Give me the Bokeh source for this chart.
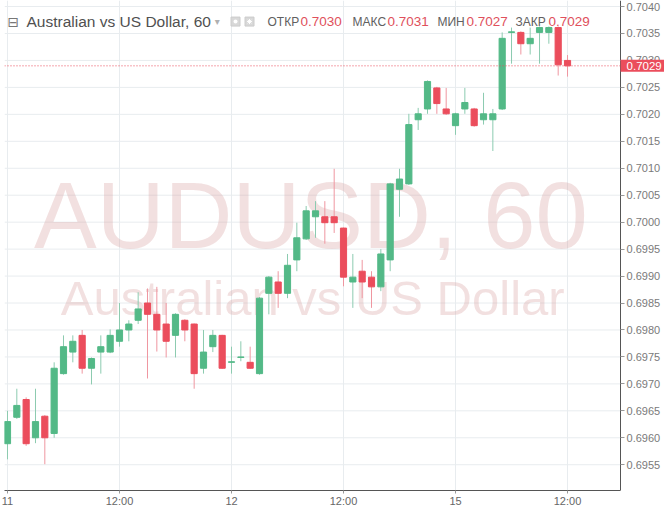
from bokeh.plotting import figure
from bokeh.models import (ColumnDataSource, FixedTicker, Label, Range1d,
                          PrintfTickFormatter)
from bokeh.embed import file_html
from bokeh.resources import INLINE
from bokeh.core.properties import value

# ---------------- data (AUDUSD, 60 min) ----------------
bars = list(range(61))
opens = [0.69589, 0.69638, 0.69671, 0.69600, 0.69640, 0.69608, 0.69719, 0.69759, 0.69790, 0.69729,
         0.69759, 0.69759, 0.69779, 0.69800, 0.69818, 0.69850, 0.69829, 0.69811, 0.69790, 0.69818,
         0.69811, 0.69729, 0.69769, 0.69790, 0.69740, 0.69749, 0.69740, 0.69719, 0.69868, 0.69889,
         0.69868, 0.69930, 0.69969, 0.70010, 0.70010, 0.70010, 0.69989, 0.69889, 0.69909, 0.69898,
         0.69880, 0.69930, 0.70061, 0.70071, 0.70190, 0.70210, 0.70249, 0.70210, 0.70179, 0.70210,
         0.70210, 0.70190, 0.70190, 0.70210, 0.70352, 0.70352, 0.70331, 0.70352, 0.70352, 0.70361,
         0.70300]
highs = [0.69650, 0.69691, 0.69675, 0.69691, 0.69642, 0.69740, 0.69790, 0.69790, 0.69800, 0.69749,
         0.69790, 0.69801, 0.69850, 0.69818, 0.69870, 0.69877, 0.69880, 0.69850, 0.69831, 0.69820,
         0.69812, 0.69800, 0.69800, 0.69791, 0.69769, 0.69779, 0.69769, 0.69861, 0.69900, 0.69909,
         0.69941, 0.69999, 0.70030, 0.70039, 0.70039, 0.70099, 0.69990, 0.69941, 0.69930, 0.69909,
         0.69950, 0.70073, 0.70099, 0.70201, 0.70212, 0.70263, 0.70251, 0.70249, 0.70203, 0.70249,
         0.70212, 0.70240, 0.70210, 0.70352, 0.70361, 0.70354, 0.70361, 0.70363, 0.70363, 0.70363,
         0.70310]
lows = [0.69560, 0.69635, 0.69585, 0.69590, 0.69551, 0.69600, 0.69717, 0.69740, 0.69719, 0.69699,
        0.69719, 0.69757, 0.69769, 0.69779, 0.69811, 0.69710, 0.69760, 0.69749, 0.69749, 0.69779,
        0.69691, 0.69719, 0.69759, 0.69728, 0.69719, 0.69742, 0.69728, 0.69717, 0.69829, 0.69841,
        0.69859, 0.69909, 0.69967, 0.69971, 0.69960, 0.69980, 0.69881, 0.69841, 0.69859, 0.69841,
        0.69872, 0.69909, 0.70010, 0.70069, 0.70171, 0.70201, 0.70201, 0.70199, 0.70162, 0.70201,
        0.70177, 0.70181, 0.70132, 0.70208, 0.70294, 0.70311, 0.70311, 0.70294, 0.70331, 0.70272,
        0.70270]
closes = [0.69630, 0.69660, 0.69589, 0.69630, 0.69600, 0.69729, 0.69769, 0.69779, 0.69729, 0.69747,
          0.69769, 0.69790, 0.69800, 0.69811, 0.69839, 0.69829, 0.69800, 0.69779, 0.69829, 0.69800,
          0.69719, 0.69759, 0.69790, 0.69729, 0.69741, 0.69750, 0.69729, 0.69859, 0.69898, 0.69868,
          0.69920, 0.69971, 0.70021, 0.70021, 0.69999, 0.69999, 0.69898, 0.69898, 0.69889, 0.69880,
          0.69941, 0.70071, 0.70080, 0.70181, 0.70201, 0.70261, 0.70220, 0.70201, 0.70201, 0.70222,
          0.70179, 0.70201, 0.70201, 0.70341, 0.70353, 0.70331, 0.70341, 0.70361, 0.70361, 0.70292,
          0.70290]

x_tick_bars = [0, 12, 24, 36, 48, 60]
x_tick_labels = ["11", "12:00", "12", "12:00", "15", "12:00"]
y_ticks = [0.6955, 0.6960, 0.6965, 0.6970, 0.6975, 0.6980, 0.6985, 0.6990, 0.6995,
           0.7000, 0.7005, 0.7010, 0.7015, 0.7020, 0.7025, 0.7030, 0.7035, 0.7040]

title_text = "Australian vs US Dollar, 60"
watermark_big = "AUDUSD, 60"
watermark_small = "Australian vs US Dollar"
ohlc_names = ["ОТКР", "МАКС", "МИН", "ЗАКР"]
ohlc_values = ["0.7030", "0.7031", "0.7027", "0.7029"]
last_price = 0.7029

UP = "#53b987"
DOWN = "#eb4d5c"
UP_WICK = "#8ccbb0"
DOWN_WICK = "#ef96a0"
GRID = "#e8ecef"

X0, X1 = -0.32, 65.68          # visible bar span of the price pane
XR_END = 70.39                 # pane + price-scale strip

up = [c >= o for o, c in zip(opens, closes)]
src = ColumnDataSource(dict(
    x=bars,
    top=[max(o, c) for o, c in zip(opens, closes)],
    bottom=[min(o, c) for o, c in zip(opens, closes)],
    high=highs, low=lows,
    color=[UP if u else DOWN for u in up],
    wick=[UP_WICK if u else DOWN_WICK for u in up],
))

p = figure(width=664, height=509, output_backend="svg", toolbar_location=None,
           x_range=Range1d(X0, XR_END), y_range=Range1d(0.695022, 0.704112),
           y_axis_location="right", min_border_left=4, min_border_top=0,
           min_border_right=0, min_border_bottom=10)
p.background_fill_color = "white"
p.border_fill_color = "white"
p.outline_line_color = None

# grid (horizontal lines drawn only across the price pane)
p.xgrid.ticker = FixedTicker(ticks=x_tick_bars)
p.xgrid.grid_line_color = GRID
p.ygrid.grid_line_color = None
p.segment(x0=[X0] * len(y_ticks), y0=y_ticks, x1=[X1] * len(y_ticks), y1=y_ticks,
          line_color=GRID, line_width=1)

# axes
p.xaxis.ticker = FixedTicker(ticks=x_tick_bars)
p.xaxis.major_label_overrides = {t: l for t, l in zip(x_tick_bars, x_tick_labels)}
p.xaxis.bounds = (X0, X1)
p.yaxis.ticker = FixedTicker(ticks=y_ticks)
p.yaxis.formatter = PrintfTickFormatter(format="%.4f")
p.yaxis.fixed_location = X1
for ax in (p.xaxis[0], p.yaxis[0]):
    ax.axis_line_color = "#555555"
    ax.major_tick_line_color = "#999999"
    ax.major_tick_out = 4
    ax.major_tick_in = 0
    ax.minor_tick_line_color = None
    ax.major_label_text_font = "Liberation Sans"
    ax.major_label_text_font_size = "11px"
    ax.major_label_text_color = "#7a7a7a"
    ax.major_label_standoff = 2
p.xaxis.major_tick_out = 3
p.xaxis.major_label_standoff = 1
p.xaxis.major_label_text_color = "#666666"

# watermark
p.text(x=[32.5], y=[0.700115], text=[watermark_big], text_font=value("Liberation Sans"),
       text_font_size="94px", text_align="center", text_baseline="middle",
       text_color="#d9a0a0", text_alpha=0.33)
p.text(x=[32.7], y=[0.698600], text=[watermark_small], text_font=value("Liberation Sans"),
       text_font_size="49px", text_align="center", text_baseline="middle",
       text_color="#d9a0a0", text_alpha=0.33)

# candles
p.segment(x0="x", y0="low", x1="x", y1="high", line_color="wick", line_width=1, source=src)
p.vbar(x="x", width=0.66, top="top", bottom="bottom", fill_color="color",
       line_color="color", line_width=1, source=src)

# last price line + tag on the price scale
p.segment(x0=[X0], y0=[last_price], x1=[X1], y1=[last_price], line_color=DOWN,
          line_dash="1 2", line_width=1)
p.add_layout(Label(x=X1, y=last_price, x_offset=0, text=ohlc_values[3],
                   text_baseline="middle", text_align="left",
                   text_font="Liberation Sans", text_font_size="11.5px",
                   text_color="white", background_fill_color=DOWN,
                   padding=dict(left=6, right=4, top=2, bottom=2)))

# header
hy = 0.703721
p.add_layout(Label(x=0.0, y=hy, text="⊟", text_font="DejaVu Sans", text_font_size="14px",
                   text_color="#777777", text_baseline="middle"))
p.add_layout(Label(x=2.04, y=hy, text=title_text, text_font="Liberation Sans",
                   text_font_size="15.5px", text_color="#505050", text_baseline="middle"))
p.add_layout(Label(x=22.2, y=hy, text="▾", text_font="DejaVu Sans", text_font_size="10px",
                   text_color="#b0b0b0", text_baseline="middle"))
p.scatter(x=[24.43, 25.93], y=[hy, hy], marker="square", size=9,
          fill_color="#d8d8d8", line_color="#cccccc")
p.scatter(x=[24.43], y=[hy], marker="circle", size=4, fill_color="white", line_color=None)
p.scatter(x=[25.93], y=[hy], marker="asterisk", size=5, line_color="white")

name_x = [27.86, 36.97, 46.07, 54.43]
val_x = [31.39, 40.72, 49.18, 57.97]
for nm, nx, vl, vx in zip(ohlc_names, name_x, ohlc_values, val_x):
    p.add_layout(Label(x=nx, y=hy, text=nm, text_font="Liberation Sans",
                       text_font_size="12px", text_color="#606060", text_baseline="middle"))
    p.add_layout(Label(x=vx, y=hy, text=vl, text_font="Liberation Sans",
                       text_font_size="13.5px", text_color="#e0505b", text_baseline="middle"))

open("out.html", "w").write(file_html(p, INLINE))
